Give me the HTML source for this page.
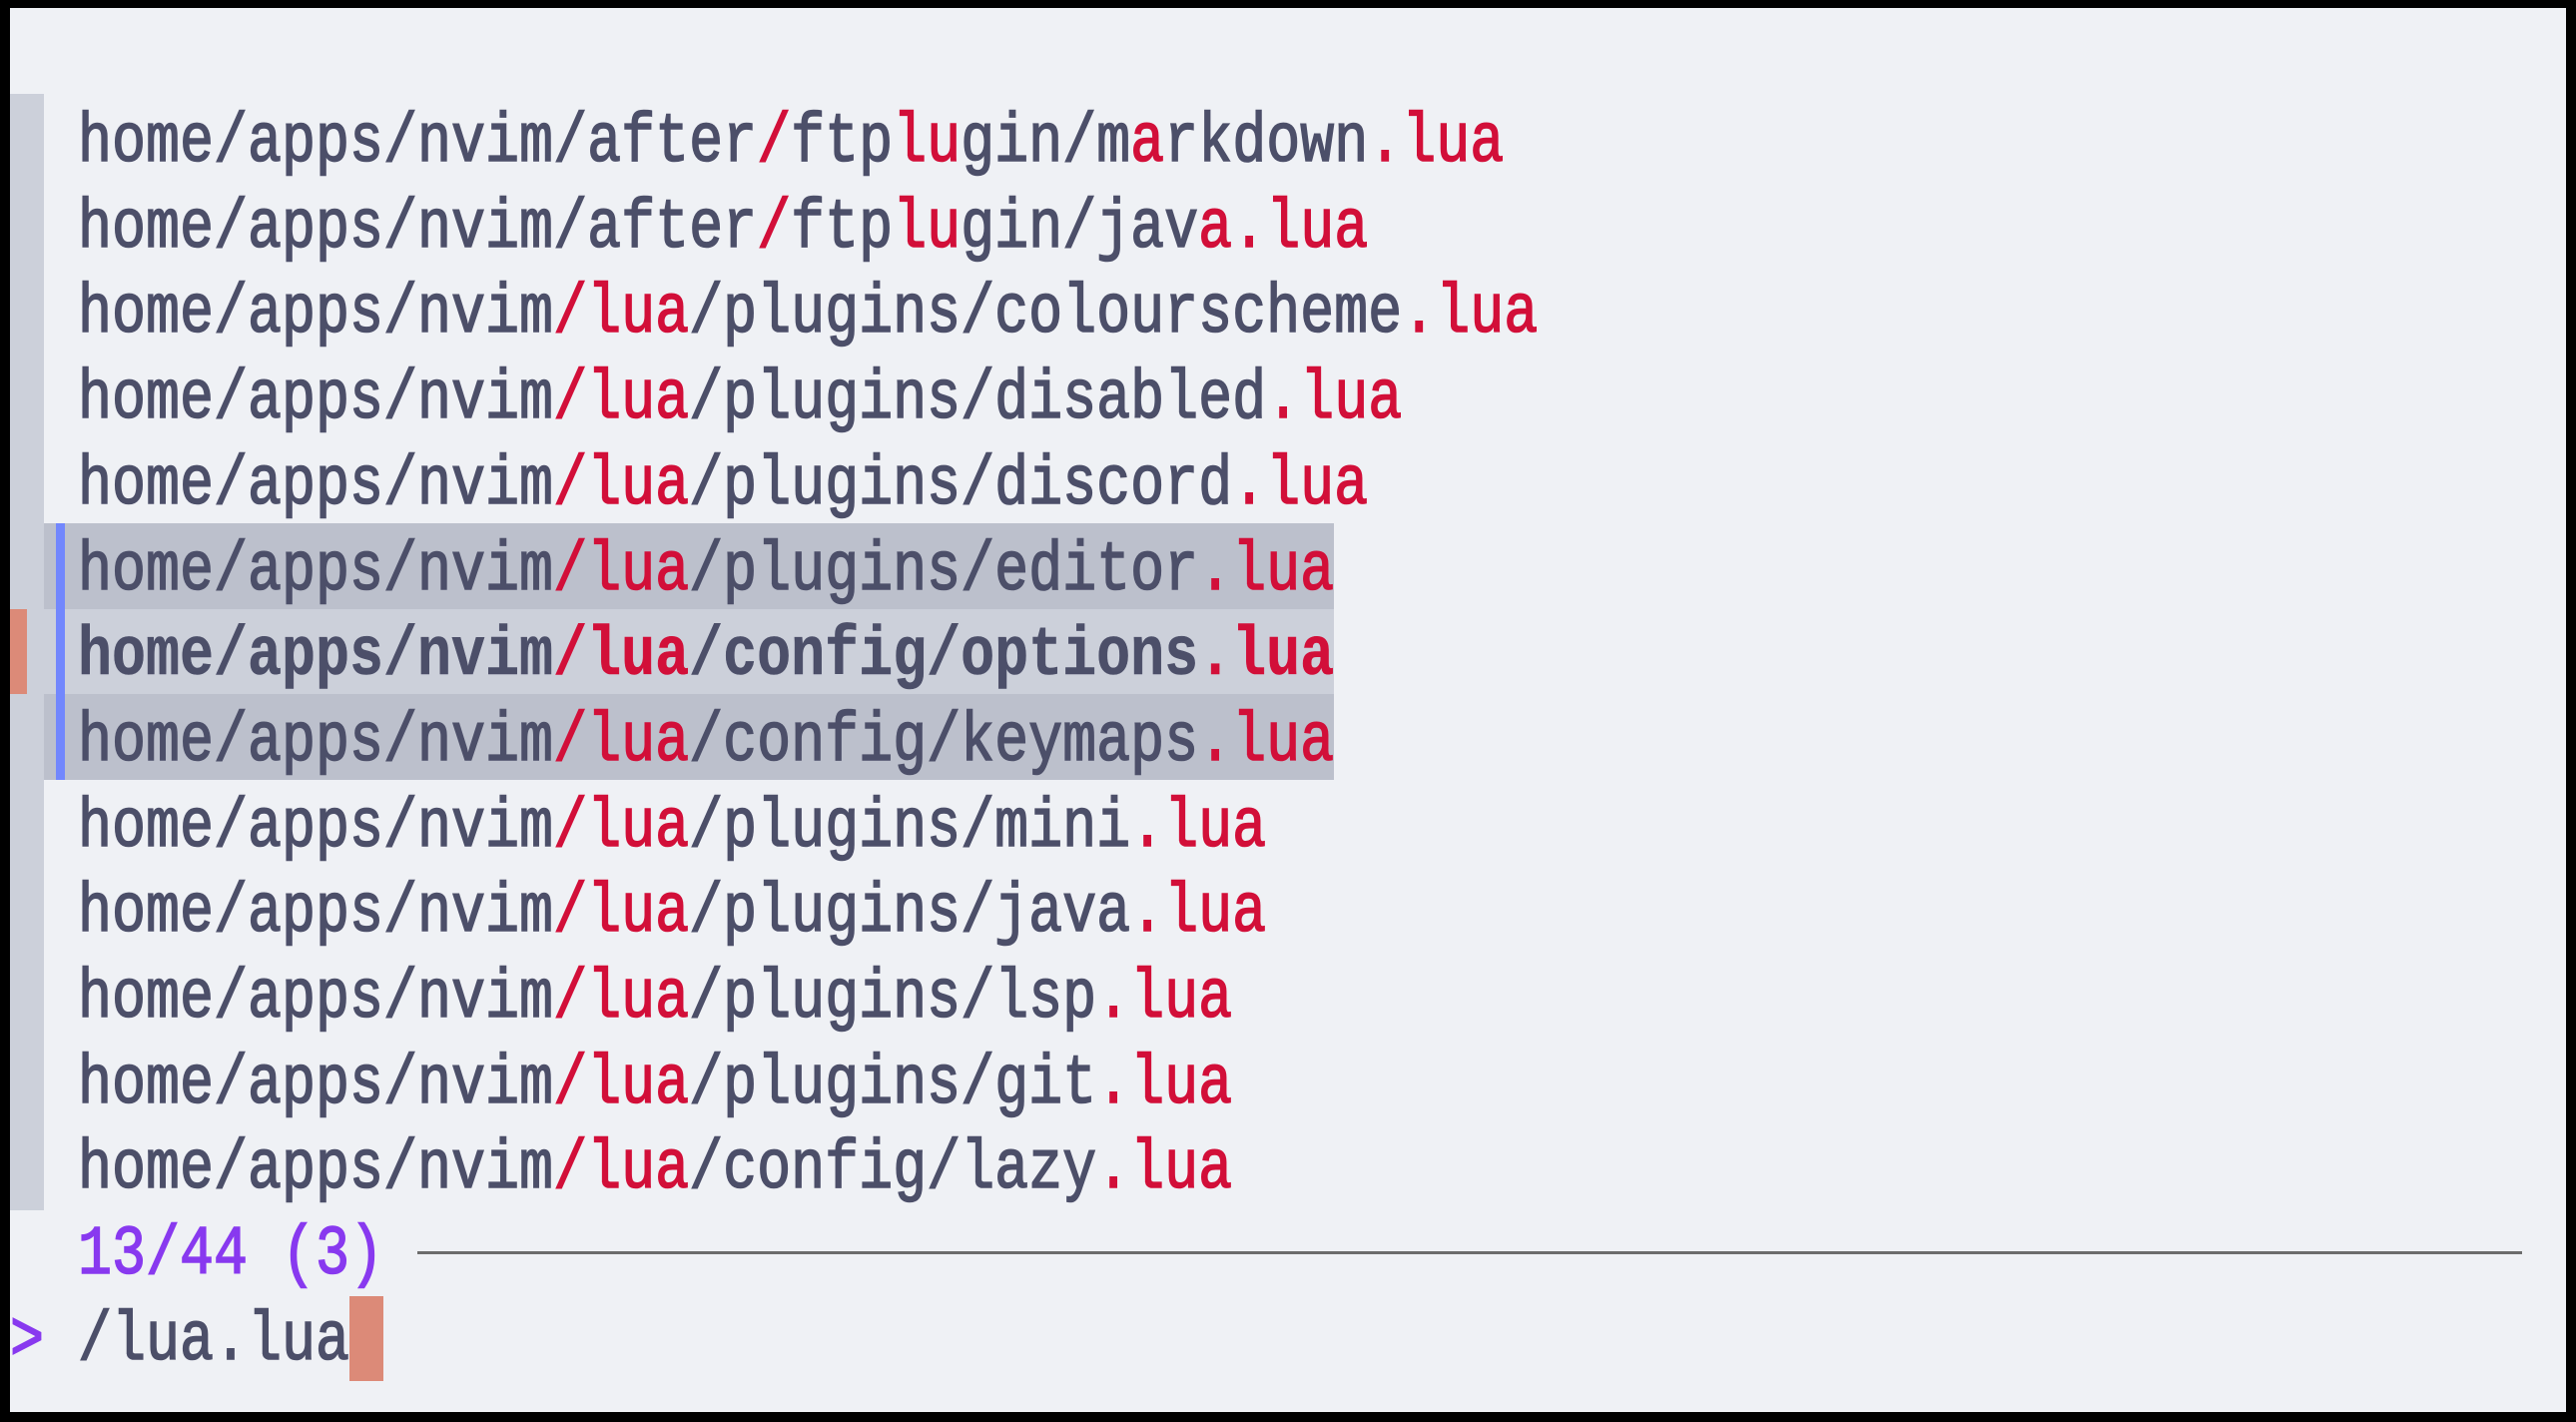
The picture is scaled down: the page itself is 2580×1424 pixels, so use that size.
<!DOCTYPE html>
<html><head><meta charset="utf-8"><style>
html,body{margin:0;padding:0}
body{width:2580px;height:1424px;background:#000;position:relative;overflow:hidden}
#bg{position:absolute;left:10px;top:8px;width:2560px;height:1406px;background:#eff1f5}
.a{position:absolute}
.t{position:absolute;left:78px;height:86px;line-height:86px;font-family:"Liberation Mono",monospace;font-size:70px;letter-spacing:0;color:#4c4f69;white-space:pre;-webkit-text-stroke:1.6px #4c4f69;padding-top:7px;transform:scaleX(0.8095);transform-origin:0 0}
.t b{color:#d20f39;font-weight:inherit;-webkit-text-stroke:1.6px #d20f39}
.bold{font-weight:bold;-webkit-text-stroke:0.6px #4c4f69}
.bold b{-webkit-text-stroke:0.6px #d20f39}
.p{color:#8839ef;-webkit-text-stroke:1.6px #8839ef}
</style></head><body>
<div id="bg"></div>
<div class="a" style="left:10px;top:94px;width:34px;height:1118px;background:#ccd0da"></div>
<div class="a" style="left:44px;top:524px;width:1292px;height:86px;background:#bcc0cc"></div>
<div class="a" style="left:44px;top:610px;width:1292px;height:85px;background:#ccd0da"></div>
<div class="a" style="left:44px;top:695px;width:1292px;height:86px;background:#bcc0cc"></div>
<div class="a" style="left:56px;top:524px;width:9px;height:257px;background:#7287fd"></div>
<div class="a" style="left:10px;top:610px;width:17px;height:85px;background:#dc8a78"></div>
<div class="a" style="left:418px;top:1253px;width:2108px;height:3px;background:#6c6c6c"></div>
<div class="a" style="left:350px;top:1298px;width:34px;height:85px;background:#dc8a78"></div>

<div class="t" style="top:94px">home/apps/nvim/after<b>/</b>ftp<b>lu</b>gin/m<b>a</b>rkdown<b>.lua</b></div>
<div class="t" style="top:179.7px">home/apps/nvim/after<b>/</b>ftp<b>lu</b>gin/jav<b>a.lua</b></div>
<div class="t" style="top:265.4px">home/apps/nvim<b>/lua</b>/plugins/colourscheme<b>.lua</b></div>
<div class="t" style="top:351.1px">home/apps/nvim<b>/lua</b>/plugins/disabled<b>.lua</b></div>
<div class="t" style="top:436.8px">home/apps/nvim<b>/lua</b>/plugins/discord<b>.lua</b></div>
<div class="t" style="top:522.5px">home/apps/nvim<b>/lua</b>/plugins/editor<b>.lua</b></div>
<div class="t bold" style="top:608.2px">home/apps/nvim<b>/lua</b>/config/options<b>.lua</b></div>
<div class="t" style="top:693.9px">home/apps/nvim<b>/lua</b>/config/keymaps<b>.lua</b></div>
<div class="t" style="top:779.6px">home/apps/nvim<b>/lua</b>/plugins/mini<b>.lua</b></div>
<div class="t" style="top:865.3px">home/apps/nvim<b>/lua</b>/plugins/java<b>.lua</b></div>
<div class="t" style="top:951px">home/apps/nvim<b>/lua</b>/plugins/lsp<b>.lua</b></div>
<div class="t" style="top:1036.7px">home/apps/nvim<b>/lua</b>/plugins/git<b>.lua</b></div>
<div class="t" style="top:1122.4px">home/apps/nvim<b>/lua</b>/config/lazy<b>.lua</b></div>
<div class="t p" style="top:1208px">13/44 (3)</div>
<div class="t p" style="top:1294px;left:10px">&gt;</div>
<div class="t" style="top:1294px">/lua.lua</div>
</body></html>
